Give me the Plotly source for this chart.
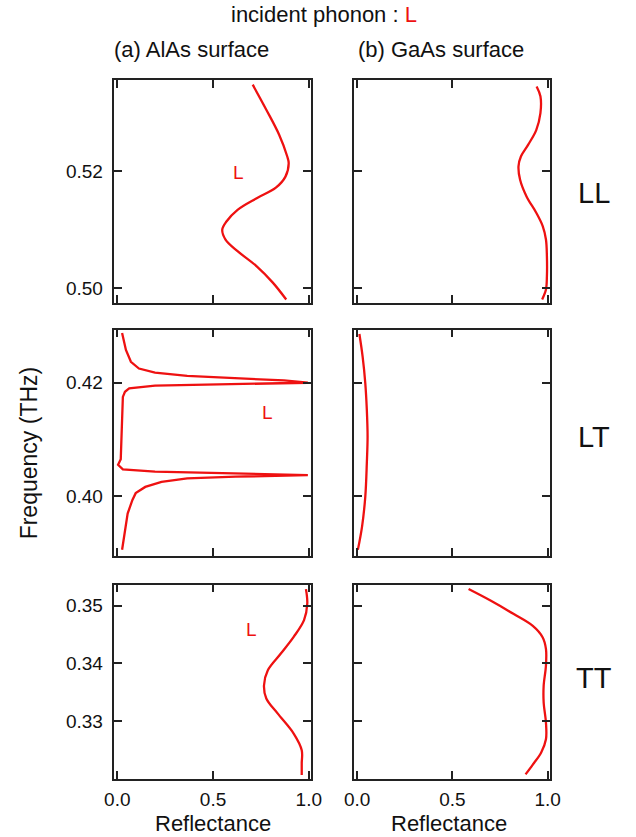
import plotly.graph_objects as go

# ---------------- data (frequency in THz, reflectance) ----------------
alas_ll_freq = [0.4980, 0.5009, 0.5037, 0.5063, 0.5083, 0.5100, 0.5114, 0.5134,
                0.5154, 0.5172, 0.5191, 0.5214, 0.5226, 0.5263, 0.5306, 0.5349]
alas_ll_refl = [0.882, 0.812, 0.728, 0.628, 0.565, 0.548, 0.570, 0.628,
                0.728, 0.828, 0.878, 0.895, 0.887, 0.845, 0.778, 0.707]

gaas_ll_freq = [0.4980, 0.4997, 0.5020, 0.5054, 0.5083, 0.5106, 0.5129, 0.5157,
                0.5186, 0.5209, 0.5226, 0.5246, 0.5271, 0.5300, 0.5329, 0.5346]
gaas_ll_refl = [0.971, 0.991, 0.996, 0.996, 0.991, 0.974, 0.940, 0.889,
                0.855, 0.847, 0.860, 0.898, 0.940, 0.962, 0.962, 0.942]

alas_lt_freq = [0.3905, 0.3934, 0.3969, 0.3993, 0.4005, 0.4016, 0.4025, 0.4031,
                0.4034, 0.4037, 0.4040, 0.4043, 0.4047, 0.4055, 0.4065, 0.4100,
                0.4134, 0.4175, 0.4184, 0.4190, 0.4195, 0.4198, 0.4200, 0.4204,
                0.4208, 0.4212, 0.4218, 0.4225, 0.4237, 0.4258, 0.4288]
alas_lt_refl = [0.025, 0.037, 0.054, 0.079, 0.096, 0.146, 0.231, 0.365,
                0.618, 0.995, 0.534, 0.197, 0.029, 0.004, 0.018, 0.022,
                0.024, 0.029, 0.040, 0.062, 0.197, 0.618, 0.995, 0.870,
                0.618, 0.365, 0.197, 0.113, 0.071, 0.045, 0.025]

gaas_lt_freq = [0.3905, 0.3946, 0.3999, 0.4058, 0.4105, 0.4152, 0.4199, 0.4246, 0.4286]
gaas_lt_refl = [0.004, 0.026, 0.043, 0.051, 0.055, 0.051, 0.043, 0.029, 0.012]

alas_tt_freq = [0.3206, 0.3226, 0.3249, 0.3278, 0.3313, 0.3339, 0.3362, 0.3388,
                0.3417, 0.3446, 0.3475, 0.3504, 0.3529]
alas_tt_refl = [0.963, 0.963, 0.963, 0.921, 0.837, 0.778, 0.766, 0.786,
                0.854, 0.921, 0.975, 0.992, 0.985]

gaas_tt_freq = [0.3207, 0.3224, 0.3245, 0.3268, 0.3297, 0.3332, 0.3361, 0.3396,
                0.3425, 0.3445, 0.3465, 0.3486, 0.3509, 0.3529]
gaas_tt_refl = [0.884, 0.922, 0.966, 0.991, 0.991, 0.979, 0.979, 0.991,
                0.991, 0.974, 0.922, 0.820, 0.700, 0.585]

x_ticks = [0.0, 0.5, 1.0]
x_ticklabels = ["0.0", "0.5", "1.0"]
ll_ticks = [0.50, 0.52]
lt_ticks = [0.40, 0.42]
tt_ticks = [0.33, 0.34, 0.35]
ll_range = [0.4974, 0.5357]
lt_range = [0.3894, 0.4294]
tt_range = [0.3199, 0.3537]
row_labels = ["LL", "LT", "TT"]
col_titles = ["(a) AlAs surface", "(b) GaAs surface"]

RED = "#ee1111"
FONT = "Liberation Sans, Arial, Helvetica, sans-serif"
W, H = 636, 837

# ---------------- layout geometry (pixels) ----------------
col_px = [(108, 311), (356, 558)]
row_px = [(80, 303), (329.5, 556), (584.5, 779)]

def xd(a, b):
    return [a / W, b / W]

def yd(t, b):
    return [1 - b / H, 1 - t / H]

fig = go.Figure()

panels = [
    (0, 0, alas_ll_refl, alas_ll_freq, "spline"),
    (0, 1, gaas_ll_refl, gaas_ll_freq, "spline"),
    (1, 0, alas_lt_refl, alas_lt_freq, "linear"),
    (1, 1, gaas_lt_refl, gaas_lt_freq, "spline"),
    (2, 0, alas_tt_refl, alas_tt_freq, "spline"),
    (2, 1, gaas_tt_refl, gaas_tt_freq, "spline"),
]
ranges = [ll_range, lt_range, tt_range]
yticks = [ll_ticks, lt_ticks, tt_ticks]

for i, (r, c, xs, ys, shape) in enumerate(panels):
    n = i + 1
    xa = "x" if n == 1 else f"x{n}"
    ya = "y" if n == 1 else f"y{n}"
    line = dict(color=RED, width=2.3, shape=shape)
    if shape == "spline":
        line["smoothing"] = 1.0
    fig.add_trace(go.Scatter(x=xs, y=ys, mode="lines", line=line,
                             xaxis=xa, yaxis=ya, showlegend=False,
                             hoverinfo="skip"))
    xkey = "xaxis" if n == 1 else f"xaxis{n}"
    ykey = "yaxis" if n == 1 else f"yaxis{n}"
    fig.layout[xkey] = dict(
        domain=xd(*col_px[c]), anchor=ya, range=[-0.015, 1.01],
        tickvals=x_ticks, ticktext=x_ticklabels,
        showticklabels=(r == 2), ticks="inside", ticklen=8, tickwidth=1.5,
        tickcolor="#222", showline=True, linecolor="#222", linewidth=1.5,
        mirror="allticks", showgrid=False, zeroline=False,
        ticklabelstandoff=2,
        tickfont=dict(size=19, color="#111", family=FONT), fixedrange=True)
    fig.layout[ykey] = dict(
        domain=yd(*row_px[r]), anchor=xa, range=ranges[r],
        tickvals=yticks[r], ticktext=[f"{v:.2f}" for v in yticks[r]],
        showticklabels=(c == 0), ticks="inside", ticklen=8, tickwidth=1.5,
        tickcolor="#222", showline=True, linecolor="#222", linewidth=1.5,
        mirror="allticks", showgrid=False, zeroline=False,
        ticklabelstandoff=6,
        tickfont=dict(size=19, color="#111", family=FONT), fixedrange=True)

ann = []
# overall title
ann.append(dict(x=325 / W, y=1 - 15 / H, xref="paper", yref="paper",
                text="incident phonon : <span style='color:%s'>L</span>" % RED,
                showarrow=False, font=dict(size=22, color="#111", family=FONT),
                xanchor="center", yanchor="middle"))
# column titles
for txt, xc in zip(col_titles, [188, 446]):
    ann.append(dict(x=xc / W, y=1 - 50 / H, xref="paper", yref="paper",
                    text=txt, showarrow=False,
                    font=dict(size=22, color="#111", family=FONT),
                    xanchor="center", yanchor="middle"))
# row labels
for txt, yc in zip(row_labels, [193, 437, 678]):
    ann.append(dict(x=604 / W, y=1 - yc / H, xref="paper", yref="paper",
                    text=txt, showarrow=False,
                    font=dict(size=29, color="#111", family=FONT),
                    xanchor="center", yanchor="middle"))
# axis titles
ann.append(dict(x=20 / W, y=1 - 453 / H, xref="paper", yref="paper",
                text="Frequency (THz)", showarrow=False, textangle=-90,
                font=dict(size=23, color="#111", family=FONT),
                xanchor="center", yanchor="middle"))
for xc in [210, 454]:
    ann.append(dict(x=xc / W, y=1 - 823 / H, xref="paper", yref="paper",
                    text="Reflectance", showarrow=False,
                    font=dict(size=22, color="#111", family=FONT),
                    xanchor="center", yanchor="middle"))
# red "L" labels inside the AlAs panels
for xa, ya, xv, yv in [("x", "y", 0.635, 0.5198), ("x3", "y3", 0.785, 0.4148),
                       ("x5", "y5", 0.70, 0.3458)]:
    ann.append(dict(x=xv, y=yv, xref=xa, yref=ya, text="L", showarrow=False,
                    font=dict(size=19, color=RED, family=FONT),
                    xanchor="center", yanchor="middle"))

fig.update_layout(width=W, height=H, margin=dict(l=0, r=0, t=0, b=0),
                  paper_bgcolor="white", plot_bgcolor="white",
                  annotations=ann, showlegend=False)

fig.write_html("out.html", config={"displayModeBar": False})
